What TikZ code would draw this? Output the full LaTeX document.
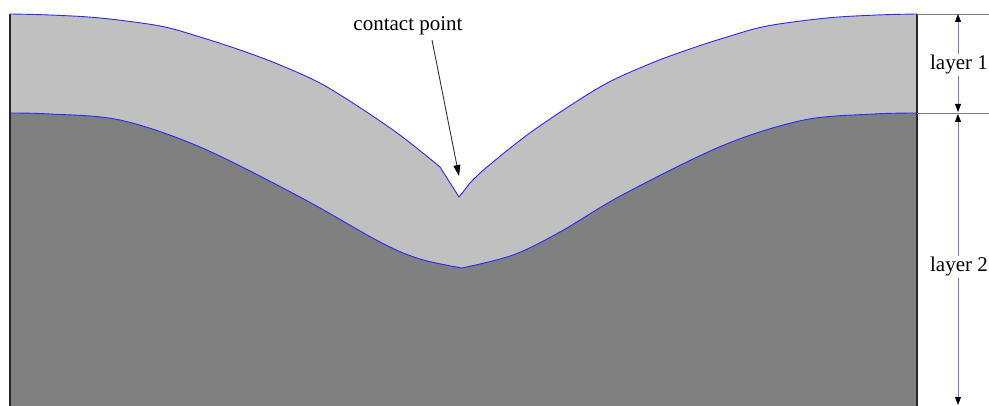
\documentclass[tikz,border=0pt]{standalone}
\usepackage{fontspec}
\setmainfont{Liberation Serif}
\usetikzlibrary{arrows.meta}
\definecolor{lightgr}{RGB}{192,192,192}
\definecolor{darkgr}{RGB}{128,128,128}
\definecolor{edgeblue}{RGB}{40,40,255}
\definecolor{dimline}{RGB}{120,120,175}
\def\TopEdge{plot[smooth,tension=0.55] coordinates {(10,14) (50,15) (100,18) (160,26) (200,37) (240,50) (280,65) (327,87) (393,130) (440,167)} -- (459,197) -- plot[smooth,tension=0.55] coordinates {(470,183) (487,167) (534,130) (600,87) (647,65) (687,50) (727,37) (767,26) (827,18) (877,15) (917,14)}}
\def\MidEdge{plot[smooth,tension=0.55] coordinates {(10,113) (50,114) (120,120) (200,147) (300,197) (380,242) (420,259) (462,268)} -- plot[smooth,tension=0.55] coordinates {(462,268) (513,255) (560,232) (624,194) (724,145) (804,120) (874,114) (917,113)}}
\begin{document}
\begin{tikzpicture}[x=1pt,y=-1pt,
  lbl/.style={font=\fontsize{21}{25}\selectfont, inner sep=1pt},
  dimarrow/.style={dimline, line width=0.9pt, arrows={Triangle[color=black,length=8pt,width=6pt]-Triangle[color=black,length=8pt,width=6pt]}},
  extline/.style={gray, line width=0.8pt},
  sideline/.style={black!85, line width=1.2pt},
  interface/.style={edgeblue, line width=0.9pt}]
\useasboundingbox (0,0) rectangle (989,406);
% layers
\fill[lightgr] \TopEdge -- (917,406) -- (10,406) -- cycle;
\fill[darkgr] \MidEdge -- (917,406) -- (10,406) -- cycle;
\draw[interface] \TopEdge;
\draw[interface] \MidEdge;
% side edges
\draw[sideline] (10,14) -- (10,406);
\draw[sideline] (917,14) -- (917,406);
% extension lines
\coordinate (e1a) at (917,14);  \coordinate (e1b) at (989,14);
\coordinate (e2a) at (917,113); \coordinate (e2b) at (989,113);
\draw[extline] (e1a) -- (e1b);
\draw[extline] (e2a) -- (e2b);
% dimension arrows
\coordinate (d1t) at (958,14);
\coordinate (d1b) at (958,112);
\coordinate (d2t) at (958,114);
\coordinate (d2b) at (958,405);
\draw[dimarrow] (d1t) -- (d1b);
\draw[dimarrow] (d2t) -- (d2b);
\node[lbl, fill=white, anchor=base] (lay1) at (959,70) {layer 1};
\node[lbl, fill=white, anchor=base] (lay2) at (959,272) {layer 2};
% contact point
\node[lbl, anchor=base] (cp) at (408,31) {contact point};
\coordinate (tail) at (432,40);
\coordinate (tip) at (459,176);
\draw[black!80, line width=0.9pt, -{Triangle[color=black,length=11pt,width=7pt]}] (tail) -- (tip);
\end{tikzpicture}
\end{document}
